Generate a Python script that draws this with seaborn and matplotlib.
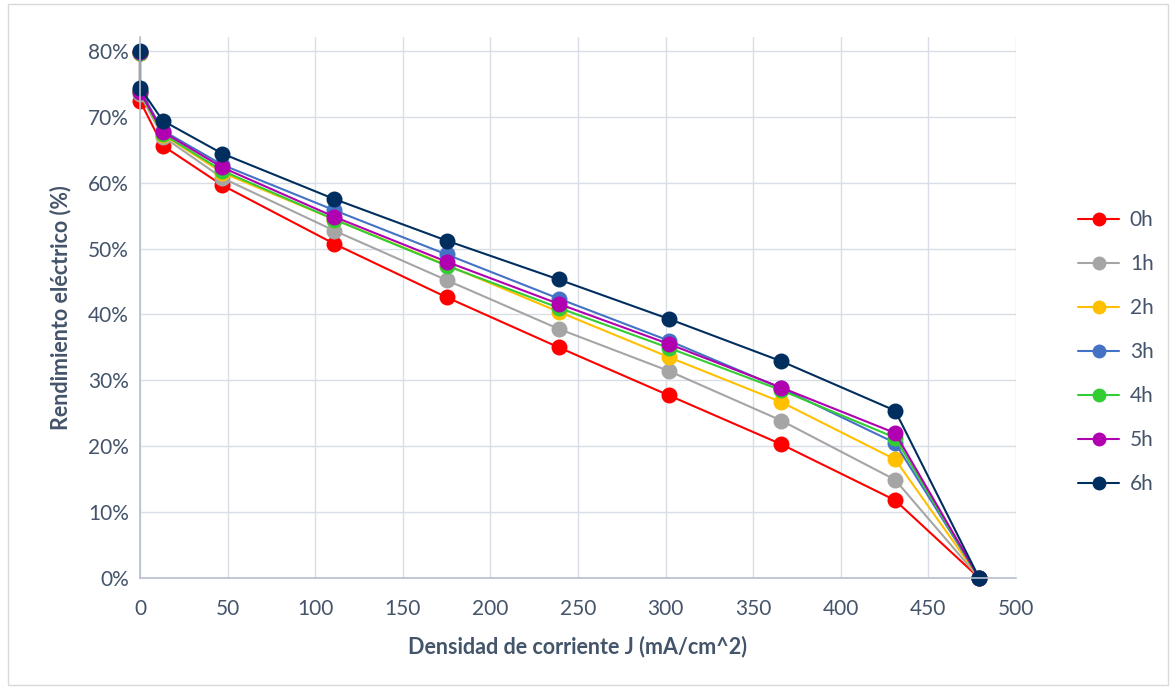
import matplotlib
matplotlib.use("Agg")
import matplotlib.pyplot as plt
import matplotlib.ticker as mtick
from matplotlib.patches import Rectangle
import pandas as pd
import seaborn as sns

# current density J (mA/cm^2); first point is open circuit at J=0
densidad = [0, 0, 13, 47, 111, 175, 239, 302, 366, 431, 479]

# electrical efficiency (%) per hour
r_0h = [79.6, 72.4, 65.6, 59.6, 50.7, 42.6, 35.0, 27.7, 20.3, 11.8, 0]
r_1h = [79.7, 73.4, 67.0, 60.7, 52.7, 45.2, 37.8, 31.4, 23.9, 14.9, 0]
r_2h = [79.7, 73.7, 67.3, 61.5, 54.4, 47.5, 40.4, 33.5, 26.7, 18.0, 0]
r_3h = [79.8, 74.1, 67.9, 62.7, 55.8, 49.1, 42.4, 36.0, 28.8, 20.5, 0]
r_4h = [79.7, 73.7, 67.4, 61.8, 54.4, 47.4, 41.0, 34.9, 28.5, 21.3, 0]
r_5h = [79.8, 73.8, 67.7, 62.3, 54.8, 48.0, 41.6, 35.5, 28.9, 22.0, 0]
r_6h = [79.9, 74.4, 69.4, 64.4, 57.5, 51.2, 45.3, 39.3, 32.9, 25.4, 0]

series = ["0h", "1h", "2h", "3h", "4h", "5h", "6h"]
valores = [r_0h, r_1h, r_2h, r_3h, r_4h, r_5h, r_6h]
colores = ["#ff0000", "#a5a5a5", "#ffc000", "#4472c4", "#33cc33", "#b000b0", "#002f5f"]

rows = []
for name, vals in zip(series, valores):
    for x, y in zip(densidad, vals):
        rows.append({"J": x, "R": y, "serie": name})
df = pd.DataFrame(rows)

sns.set_theme(style="white")
plt.rcParams["font.family"] = ["Lato", "DejaVu Sans"]

txt = "#44546a"
fig = plt.figure(figsize=(11.76, 6.89), dpi=100)
ax = fig.add_axes([140 / 1176, 1 - 578 / 689, (1016 - 140) / 1176, (578 - 37) / 689])

sns.lineplot(data=df, x="J", y="R", hue="serie", hue_order=series,
             palette=colores, units="serie", estimator=None, sort=False,
             marker="o", markersize=11.5, markeredgewidth=0, linewidth=1.5,
             ax=ax, legend=True, clip_on=False)

ax.set_xlim(0, 500)
ax.set_ylim(0, 82.1)
ax.set_xticks(range(0, 501, 50))
ax.set_yticks(range(0, 81, 10))
ax.yaxis.set_major_formatter(mtick.FuncFormatter(lambda v, p: f"{v:.0f}%"))
ax.grid(True, color="#d9dde6", linewidth=1)
ax.set_axisbelow(True)
for s in ["top", "right"]:
    ax.spines[s].set_visible(False)
for s in ["left", "bottom"]:
    ax.spines[s].set_color("#b7bfcc")
    ax.spines[s].set_linewidth(1.2)
ax.tick_params(axis="both", labelsize=15, colors=txt, length=0)
ax.tick_params(axis="x", pad=15)
ax.tick_params(axis="y", pad=8)

ax.set_xlabel("Densidad de corriente J (mA/cm^2)", fontsize=15.5,
              fontweight="bold", color=txt, labelpad=12)
ax.set_ylabel("Rendimiento eléctrico (%)", fontsize=15.5,
              fontweight="bold", color=txt, labelpad=12)

handles, labels = ax.get_legend_handles_labels()
ax.get_legend().remove()
for h in handles:
    h.set_markersize(10)
fig.legend(handles, labels, loc="center left",
           bbox_to_anchor=(1059 / 1176, 1 - 352 / 689), frameon=False,
           fontsize=15, labelspacing=1.15, handlelength=2.0,
           handletextpad=0.5, labelcolor=txt)

fig.patches.append(Rectangle((8 / 1176, 4 / 689), 1 - 16 / 1176, 1 - 8 / 689,
                             transform=fig.transFigure, fill=False,
                             edgecolor="#d9d9d9", linewidth=1))

fig.savefig("out.png", dpi=100)
